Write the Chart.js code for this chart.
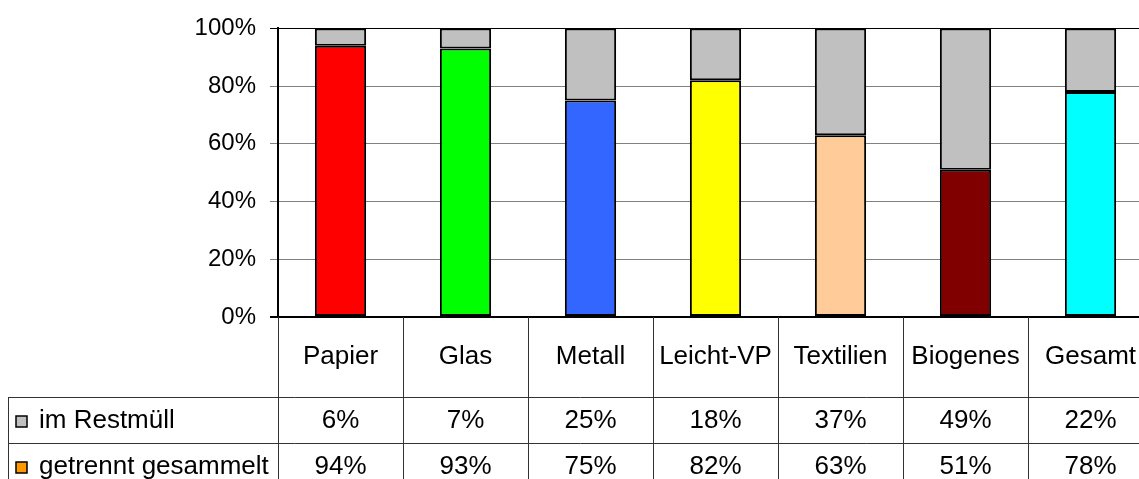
<!DOCTYPE html>
<html>
<head>
<meta charset="utf-8">
<script src="https://cdn.jsdelivr.net/npm/chart.js@4.4.1/dist/chart.umd.min.js"></script>
<style>
  html, body { margin: 0; padding: 0; background: #fff; overflow: hidden; }
  canvas { display: block; }
</style>
</head>
<body>
<canvas id="myChart" width="1160" height="479" style="width:1160px;height:479px"></canvas>
<script>
var chart = document.getElementById('myChart')

const categories = ['Papier', 'Glas', 'Metall', 'Leicht-VP', 'Textilien', 'Biogenes', 'Gesamt'];
const getrennt = [94, 93, 75, 82, 63, 51, 78];
const restmuell = [6, 7, 25, 18, 37, 49, 22];
const barColors = ['#ff0000', '#00ff00', '#3366ff', '#ffff00', '#ffcc99', '#800000', '#00ffff'];
const yTicks = [0, 20, 40, 60, 80, 100];

const FONT = '"Liberation Sans", Arial, sans-serif';

// draws the data table under the plot (category row + two value rows)
const tablePlugin = {
    id: 'dataTable',
    afterDraw(c) {
        const ctx = c.ctx;
        const area = c.chartArea;
        const colW = (area.right - area.left) / categories.length;
        const top = area.bottom, row1 = 397, row2 = 443, bottom = 479;
        ctx.save();
        ctx.strokeStyle = '#333';
        ctx.lineWidth = 1;
        ctx.beginPath();
        // verticals
        for (let i = 0; i <= categories.length; i++) {
            const x = Math.round(area.left + i * colW) + 0.5;
            ctx.moveTo(x, top);
            ctx.lineTo(x, bottom);
        }
        ctx.moveTo(8.5, row1);
        ctx.lineTo(8.5, bottom);
        // horizontals
        ctx.moveTo(8, row1 + 0.5);
        ctx.lineTo(area.right, row1 + 0.5);
        ctx.moveTo(8, row2 + 0.5);
        ctx.lineTo(area.right, row2 + 0.5);
        ctx.stroke();

        ctx.fillStyle = '#000';
        ctx.font = '26px ' + FONT;
        ctx.textAlign = 'center';
        ctx.textBaseline = 'middle';
        categories.forEach((cat, i) => {
            const cx = area.left + (i + 0.5) * colW;
            ctx.fillText(cat, cx, 357);
            ctx.fillText(restmuell[i] + '%', cx, 421);
            ctx.fillText(getrennt[i] + '%', cx, 467);
        });

        // legend keys in the row headers
        ctx.textAlign = 'left';
        ctx.lineWidth = 1.5;
        ctx.strokeStyle = '#000';
        ctx.fillStyle = '#c0c0c0';
        ctx.fillRect(16, 416, 11, 11);
        ctx.strokeRect(16, 416, 11, 11);
        ctx.fillStyle = '#ff9900';
        ctx.fillRect(16, 462, 11, 11);
        ctx.strokeRect(16, 462, 11, 11);
        ctx.fillStyle = '#000';
        ctx.fillText('im Restmüll', 39, 421);
        ctx.fillText('getrennt gesammelt', 39, 467);
        ctx.restore();
    }
};

const barData = {
    labels: categories,
    datasets: [
        {
            label: 'getrennt gesammelt',
            data: getrennt,
            backgroundColor: barColors,
            borderColor: '#000',
            borderWidth: 2,
            borderSkipped: false,
        },
        {
            label: 'im Restmüll',
            data: restmuell,
            backgroundColor: '#c0c0c0',
            borderColor: '#000',
            borderWidth: 2,
            borderSkipped: false,
        },
    ]
};

new Chart(chart.getContext('2d'), {
    type: 'bar',
    data: barData,
    plugins: [tablePlugin],
    options: {
        responsive: false,
        animation: false,
        devicePixelRatio: 1,
        layout: {
            padding: { top: 26, bottom: 162, right: 7, left: 0 }
        },
        plugins: {
            legend: { display: false },
            tooltip: { enabled: false },
        },
        datasets: {
            bar: { barPercentage: 0.41, categoryPercentage: 1 }
        },
        scales: {
            x: {
                stacked: true,
                display: false,
            },
            y: {
                stacked: true,
                min: 0,
                max: 100,
                afterFit(axis) { axis.width = 278; },
                afterBuildTicks(axis) { axis.ticks = yTicks.map(v => ({ value: v })); },
                ticks: {
                    padding: 14,
                    color: '#000',
                    font: { family: FONT, size: 24 },
                    callback: (v) => v + '%',
                },
                grid: {
                    tickLength: 8,
                    color: (ctx) => (ctx.tick && (ctx.tick.value === 0 || ctx.tick.value === 100)) ? '#000' : '#808080',
                    lineWidth: (ctx) => (ctx.tick && ctx.tick.value === 0) ? 2 : 1,
                },
                border: { color: '#000', width: 2 },
            }
        }
    }
});
</script>
</body>
</html>
